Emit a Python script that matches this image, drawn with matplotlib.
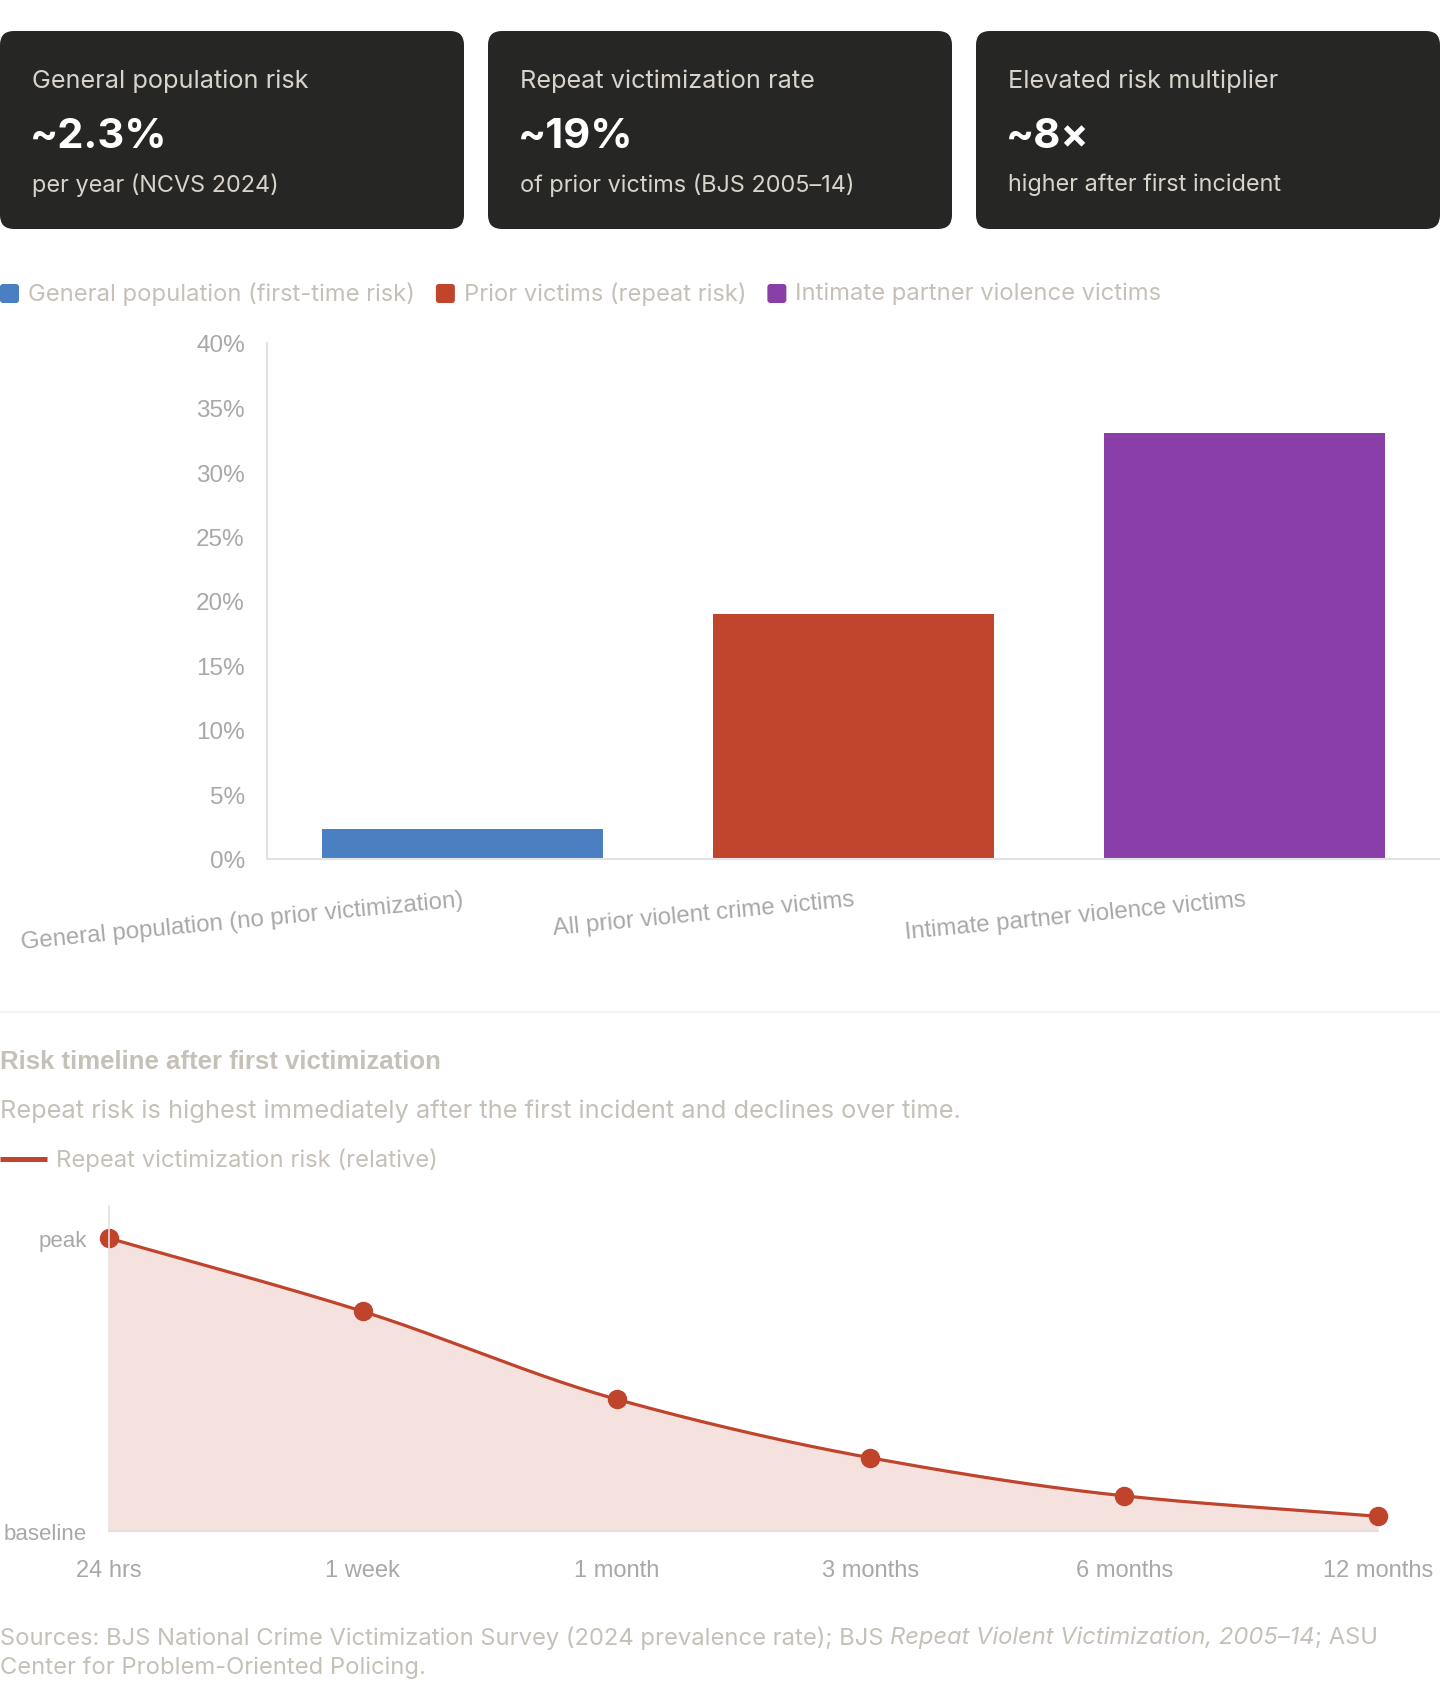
import numpy as np
import matplotlib
matplotlib.use("Agg")
import matplotlib.pyplot as plt
from matplotlib.patches import FancyBboxPatch

W, H = 1440, 1690

# stat cards
card_titles = ["General population risk", "Repeat victimization rate", "Elevated risk multiplier"]
card_values = ["~2.3%", "~19%", "~8×"]
card_notes = ["per year (NCVS 2024)", "of prior victims (BJS 2005–14)", "higher after first incident"]

# bar chart
bar_labels = ["General population (no prior victimization)", "All prior violent crime victims",
              "Intimate partner violence victims"]
bar_values = [2.3, 19, 33]
bar_legend = ["General population (first-time risk)", "Prior victims (repeat risk)",
              "Intimate partner violence victims"]
bar_colors = ["#4a7fc1", "#c0452c", "#8a3ea8"]

# timeline (relative risk, baseline=0, peak=100)
time_labels = ["24 hrs", "1 week", "1 month", "3 months", "6 months", "12 months"]
risk_values = [100, 75, 45, 25, 12, 5]

LIGHT = "#c5c1b9"
TICK = "#a8a8a8"
RED = "#c0432c"
SANS = "Liberation Sans"
UI = "Inter"


def monotone(xs, ys, n=60):
    # monotone cubic (pchip style) just for drawing a smooth line through the points
    xs = np.asarray(xs, float)
    ys = np.asarray(ys, float)
    h = np.diff(xs)
    d = np.diff(ys) / h
    m = np.zeros_like(ys)
    m[0], m[-1] = d[0], d[-1]
    for k in range(1, len(xs) - 1):
        if d[k - 1] * d[k] > 0:
            w1 = 2 * h[k] + h[k - 1]
            w2 = h[k] + 2 * h[k - 1]
            m[k] = (w1 + w2) / (w1 / d[k - 1] + w2 / d[k])
    px, py = [], []
    for k in range(len(xs) - 1):
        t = np.linspace(0, 1, n)
        h00 = 2 * t**3 - 3 * t**2 + 1
        h10 = t**3 - 2 * t**2 + t
        h01 = -2 * t**3 + 3 * t**2
        h11 = t**3 - t**2
        px.append(xs[k] + t * h[k])
        py.append(h00 * ys[k] + h10 * h[k] * m[k] + h01 * ys[k + 1] + h11 * h[k] * m[k + 1])
    return np.concatenate(px), np.concatenate(py)


fig = plt.figure(figsize=(W / 100, H / 100), dpi=100)
bg = fig.add_axes([0, 0, 1, 1])
bg.set_xlim(0, W)
bg.set_ylim(H, 0)
bg.axis("off")
r = fig.canvas.get_renderer()

# cards
for i, x0 in enumerate([0, 488, 976]):
    bg.add_patch(FancyBboxPatch((x0, 32), 464, 198, boxstyle="round,pad=0,rounding_size=14",
                                fc="#262625", ec="none"))
    bg.text(x0 + 32, 81, card_titles[i], fontsize=18.2, color="#d8d4cc", family=UI, va="center")
    bg.text(x0 + 30, 137, card_values[i], fontsize=30, color="white", family=UI,
            weight="bold", va="center")
    bg.text(x0 + 32, 185, card_notes[i], fontsize=16.9, color="#d8d4cc", family=UI, va="center")

# bar legend
x = 0
for lab, col in zip(bar_legend, bar_colors):
    bg.add_patch(FancyBboxPatch((x, 285), 19, 19, boxstyle="round,pad=0,rounding_size=3",
                                fc=col, ec="none"))
    t = bg.text(x + 28, 294, lab, fontsize=17.1, color=LIGHT, family=UI, va="center")
    x = x + 28 + t.get_window_extent(renderer=r).width + 21

# bar chart
ax = fig.add_axes([267 / W, (H - 860) / H, (W - 267) / W, (860 - 344) / H])
ax.set_facecolor("none")
ax.bar(range(len(bar_values)), bar_values, width=0.72, color=bar_colors)
ax.set_xlim(-0.5, 2.5)
ax.set_ylim(0, 40)
ax.set_yticks(range(0, 41, 5))
ax.set_yticklabels([f"{v}%" for v in range(0, 41, 5)], family=SANS)
ax.set_xticks(range(len(bar_labels)))
ax.set_xticklabels(bar_labels, rotation=5.5, ha="right", rotation_mode="anchor", family=SANS)
for s in ["top", "right"]:
    ax.spines[s].set_visible(False)
for s in ["left", "bottom"]:
    ax.spines[s].set_color("#e2e2e2")
    ax.spines[s].set_linewidth(1.5)
ax.tick_params(axis="y", length=0, pad=16, labelsize=17.5, labelcolor=TICK)
ax.tick_params(axis="x", length=0, pad=21, labelsize=17.3, labelcolor=TICK)

# separator
bg.plot([0, W], [1013, 1013], color="#f2f2f2", lw=1.5)

# timeline headers
bg.text(0, 1062, "Risk timeline after first victimization", fontsize=18.5, weight="bold",
        color=LIGHT, family=SANS, va="center")
bg.text(0, 1111, "Repeat risk is highest immediately after the first incident and declines over time.",
        fontsize=18.3, color=LIGHT, family=UI, va="center")
bg.plot([0, 47], [1160, 1160], color=RED, lw=3.6, solid_capstyle="butt")
bg.text(56, 1160, "Repeat victimization risk (relative)", fontsize=17.15, color=LIGHT,
        family=UI, va="center")

# line chart
lx = fig.add_axes([109 / W, (H - 1532) / H, 1269 / W, 325 / H])
lx.set_facecolor("none")
xi = np.arange(len(risk_values))
sx, sy = monotone(xi, risk_values)
lx.fill_between(sx, 0, sy, color="#f5e2de", lw=0)
lx.plot(sx, sy, color=RED, lw=2.3)
lx.plot(xi, risk_values, "o", color=RED, ms=13, clip_on=False)
lx.set_xlim(0, len(risk_values) - 1)
lx.set_ylim(0, 111)
lx.set_yticks([0, 100])
lx.set_yticklabels(["baseline", "peak"], family=SANS)
lx.set_xticks(xi)
lx.set_xticklabels(time_labels, family=SANS)
for s in ["top", "right"]:
    lx.spines[s].set_visible(False)
lx.spines["left"].set_color("#e6e2e2")
lx.spines["bottom"].set_color("#e6dcdc")
lx.spines["left"].set_linewidth(1.2)
lx.spines["bottom"].set_linewidth(1.5)
lx.tick_params(axis="y", length=0, pad=16, labelsize=16, labelcolor=TICK)
lx.tick_params(axis="x", length=0, pad=20, labelsize=17, labelcolor=TICK)

# sources
parts = [("Sources: BJS National Crime Victimization Survey (2024 prevalence rate); BJS ", "normal"),
         ("Repeat Violent Victimization, 2005–14", "italic"),
         ("; ASU", "normal")]
x = 0
for txt, style in parts:
    t = bg.text(x, 1638, txt, fontsize=17.1, color=LIGHT, family=UI, style=style, va="center")
    x += t.get_window_extent(renderer=r).width
bg.text(0, 1668, "Center for Problem-Oriented Policing.", fontsize=17.1, color=LIGHT,
        family=UI, va="center")

fig.savefig("out.png", dpi=100)
